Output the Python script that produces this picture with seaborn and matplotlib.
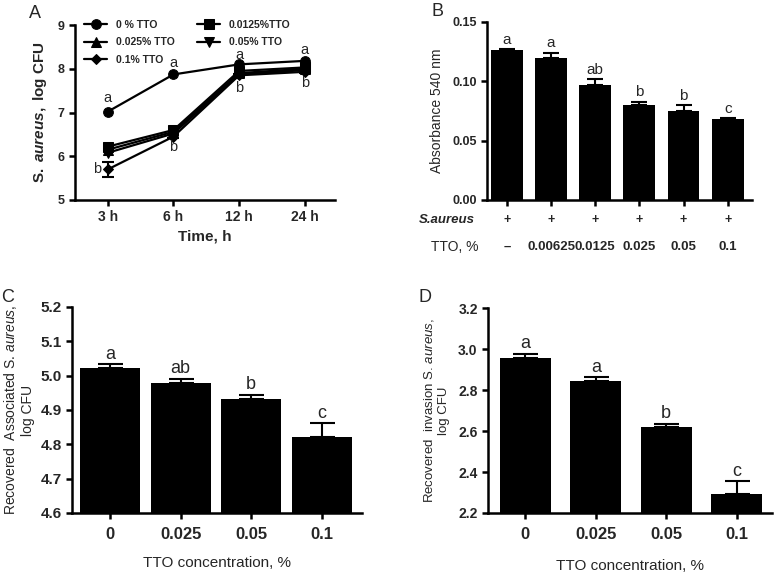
import matplotlib
matplotlib.use("Agg")
import matplotlib.pyplot as plt
import seaborn as sns
import numpy as np
import pandas as pd

sns.set_theme(style="ticks")
plt.rcParams['font.family'] = ['Liberation Sans', 'DejaVu Sans']
plt.rcParams['mathtext.fontset'] = 'custom'
plt.rcParams['mathtext.it'] = 'Liberation Sans:italic'
plt.rcParams['mathtext.rm'] = 'Liberation Sans'
plt.rcParams['mathtext.bf'] = 'Liberation Sans:bold'
plt.rcParams['mathtext.bfit'] = 'Liberation Sans:italic:bold'

# ---------------- data ----------------
# Panel A
time_labels = ["3 h", "6 h", "12 h", "24 h"]
a_series = ["0 % TTO", "0.0125%TTO", "0.025% TTO", "0.05% TTO", "0.1% TTO"]
a_markers = ["o", "s", "^", "v", "D"]
a_0 = [7.02, 7.87, 8.10, 8.18]
a_00125 = [6.22, 6.60, 7.95, 8.03]
a_0025 = [6.15, 6.56, 7.90, 8.00]
a_005 = [6.08, 6.52, 7.87, 7.97]
a_01 = [5.70, 6.45, 7.85, 7.93]
a_01_err = [0.18, 0.03, 0.03, 0.03]
a_letters_top = ["a", "a", "a", "a"]
a_letters_bot = ["b", "b", "b", "b"]

# Panel B
b_tto = ["\u2013", "0.00625", "0.0125", "0.025", "0.05", "0.1"]
b_vals = [0.126, 0.120, 0.097, 0.080, 0.075, 0.068]
b_err = [0.001, 0.004, 0.005, 0.003, 0.005, 0.001]
b_letters = ["a", "a", "ab", "b", "b", "c"]

# Panel C
cd_labels = ["0", "0.025", "0.05", "0.1"]
c_vals = [5.022, 4.978, 4.932, 4.822]
c_err = [0.011, 0.012, 0.012, 0.039]
c_letters = ["a", "ab", "b", "c"]

# Panel D
d_vals = [2.955, 2.845, 2.620, 2.292]
d_err = [0.022, 0.016, 0.015, 0.063]
d_letters = ["a", "a", "b", "c"]

W, H = 778, 573
fig = plt.figure(figsize=(W / 100, H / 100), dpi=100)


def px_axes(left, top, right, bottom):
    return fig.add_axes([left / W, 1 - bottom / H, (right - left) / W, (bottom - top) / H])


def style_axes(ax):
    for s in ["top", "right"]:
        ax.spines[s].set_visible(False)
    for s in ["left", "bottom"]:
        ax.spines[s].set_linewidth(1.8)
        ax.spines[s].set_color("black")
    ax.tick_params(axis="both", width=1.8, length=4, color="black", direction="out")


# ---------------- Panel A ----------------
axA = px_axes(75, 25, 335, 200)
style_axes(axA)
x = np.arange(len(time_labels))
series_vals = [a_0, a_00125, a_0025, a_005, a_01]
for name, vals, m in zip(a_series, series_vals, a_markers):
    df = pd.DataFrame({"x": x, "y": vals})
    sns.lineplot(data=df, x="x", y="y", ax=axA, color="black", marker=m,
                 markersize=7 if m != "D" else 5.5, markeredgecolor="black",
                 linewidth=1.6, label=name)
axA.errorbar(x, a_01, yerr=a_01_err, fmt="none", ecolor="black", capsize=4,
             elinewidth=1.5, capthick=1.5)
axA.set_xlim(-0.5, 3.46)
axA.set_ylim(5, 9)
axA.set_yticks([5, 6, 7, 8, 9])
axA.set_xticks(x)
axA.set_xticklabels(time_labels, fontsize=10, fontweight="bold")
for t in axA.get_yticklabels():
    t.set_fontsize(9)
    t.set_fontweight("bold")
axA.set_xlabel("Time, h", fontsize=11, fontweight="bold", labelpad=4)
axA.set_ylabel(r"$\mathbf{S.}$ $\mathbfit{aureus}$$\mathbf{,\ log\ CFU}$", fontsize=11, labelpad=6)
# letters
a_top_off = [0.32, 0.27, 0.22, 0.26]
for xi, v, off, l in zip(x, a_0, a_top_off, a_letters_top):
    axA.text(xi, v + off, l, ha="center", va="center", fontsize=10.5)
a_bot_dx = [-0.17, 0.0, 0.0, 0.0]
a_bot_off = [0.0, -0.24, -0.30, -0.26]
for xi, v, dx, off, l in zip(x, a_01, a_bot_dx, a_bot_off, a_letters_bot):
    axA.text(xi + dx, v + off, l, ha="center", va="center", fontsize=10.5)
h, l = axA.get_legend_handles_labels()
order = [0, 2, 4, 1, 3]
leg = axA.legend([h[i] for i in order], [l[i] for i in order], ncol=2, loc="upper left",
                 bbox_to_anchor=(0.0, 1.085), frameon=False, handlelength=2.2,
                 columnspacing=2.2, labelspacing=0.75, handletextpad=0.8,
                 prop={"size": 7.5, "weight": "bold"})

# ---------------- Panel B ----------------
axB = px_axes(487, 22, 752, 200)
style_axes(axB)
xb = np.arange(len(b_vals))
dfb = pd.DataFrame({"x": xb, "y": b_vals})
sns.barplot(data=dfb, x="x", y="y", ax=axB, color="black", saturation=1, width=0.72,
            native_scale=True, edgecolor="black", linewidth=0)
axB.errorbar(xb, b_vals, yerr=[np.zeros(len(b_err)), b_err], fmt="none", ecolor="black",
             capsize=6, elinewidth=1.5, capthick=1.5)
axB.set_xlim(-0.45, 5.55)
axB.set_ylim(0, 0.15)
axB.set_yticks([0.0, 0.05, 0.10, 0.15])
axB.set_yticklabels(["0.00", "0.05", "0.10", "0.15"], fontsize=9, fontweight="bold")
axB.set_xticks(xb)
axB.set_xticklabels([])
axB.set_xlabel("")
axB.set_ylabel("Absorbance 540 nm", fontsize=10, labelpad=6)
for xi, v, e, l in zip(xb, b_vals, b_err, b_letters):
    axB.text(xi, v + e + 0.002, l, ha="center", va="bottom", fontsize=11)
trB = matplotlib.transforms.blended_transform_factory(axB.transData, axB.transAxes)
for xi, t in zip(xb, b_tto):
    axB.text(xi, -0.115, "+", transform=trB, ha="center", va="center", fontsize=9, fontweight="bold")
    axB.text(xi, -0.265, t, transform=trB, ha="center", va="center", fontsize=9.5,
             fontweight="bold")
fig.text(447 / W, 1 - 220 / H, "S.aureus", ha="center", va="center", fontsize=9.5,
         fontstyle="italic", fontweight="bold")
fig.text(455 / W, 1 - 247 / H, "TTO, %", ha="center", va="center", fontsize=10)

# ---------------- Panel C ----------------
axC = px_axes(72, 307, 362, 513)
style_axes(axC)
xc = np.arange(len(c_vals))
dfc = pd.DataFrame({"x": xc, "y": c_vals})
sns.barplot(data=dfc, x="x", y="y", ax=axC, color="black", saturation=1, width=0.85,
            native_scale=True, edgecolor="black", linewidth=0)
axC.errorbar(xc, c_vals, yerr=[np.zeros(len(c_err)), c_err], fmt="none", ecolor="black",
             capsize=9, elinewidth=1.5, capthick=1.5)
axC.set_xlim(-0.54, 3.57)
axC.set_ylim(4.6, 5.2)
axC.set_yticks([4.6, 4.7, 4.8, 4.9, 5.0, 5.1, 5.2])
axC.set_yticklabels(["4.6", "4.7", "4.8", "4.9", "5.0", "5.1", "5.2"], fontsize=11, fontweight="bold")
axC.set_xticks(xc)
axC.set_xticklabels(cd_labels, fontsize=12, fontweight="bold")
axC.tick_params(axis="x", pad=6)
axC.set_xlabel("TTO concentration, %", fontsize=11, labelpad=10)
axC.set_ylabel("Recovered  Associated S. $\\mathit{aureus}$,\nlog CFU", fontsize=10, labelpad=4)
for xi, v, e, l in zip(xc, c_vals, c_err, c_letters):
    axC.text(xi, v + e + 0.005, l, ha="center", va="bottom", fontsize=13)

# ---------------- Panel D ----------------
axD = px_axes(488, 308, 772, 513)
style_axes(axD)
xd = np.arange(len(d_vals))
dfd = pd.DataFrame({"x": xd, "y": d_vals})
sns.barplot(data=dfd, x="x", y="y", ax=axD, color="black", saturation=1, width=0.72,
            native_scale=True, edgecolor="black", linewidth=0)
axD.errorbar(xd, d_vals, yerr=[np.zeros(len(d_err)), d_err], fmt="none", ecolor="black",
             capsize=9, elinewidth=1.5, capthick=1.5)
axD.set_xlim(-0.53, 3.5)
axD.set_ylim(2.2, 3.2)
axD.set_yticks([2.2, 2.4, 2.6, 2.8, 3.0, 3.2])
axD.set_yticklabels(["2.2", "2.4", "2.6", "2.8", "3.0", "3.2"], fontsize=10, fontweight="bold")
axD.set_xticks(xd)
axD.set_xticklabels(cd_labels, fontsize=12, fontweight="bold")
axD.tick_params(axis="x", pad=6)
axD.set_xlabel("TTO concentration, %", fontsize=11, labelpad=12)
axD.set_ylabel("Recovered  invasion S. $\\mathit{aureus}$,\nlog CFU", fontsize=9.5, labelpad=6)
for xi, v, e, l in zip(xd, d_vals, d_err, d_letters):
    axD.text(xi, v + e + 0.008, l, ha="center", va="bottom", fontsize=13)

# panel letters
fig.text(35 / W, 1 - 13 / H, "A", ha="center", va="center", fontsize=13)
fig.text(437 / W, 1 - 12 / H, "B", ha="center", va="center", fontsize=13)
fig.text(8 / W, 1 - 298 / H, "C", ha="center", va="center", fontsize=13)
fig.text(425 / W, 1 - 297 / H, "D", ha="center", va="center", fontsize=13)

fig.savefig("out.png", dpi=100)
